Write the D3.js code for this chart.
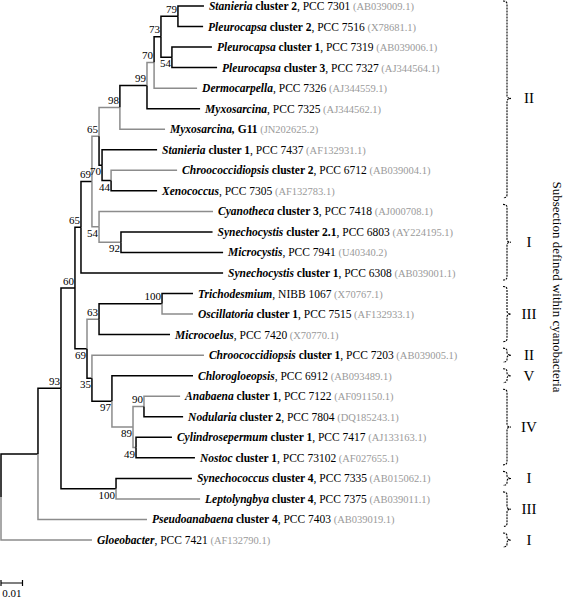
<!DOCTYPE html>
<html><head><meta charset="utf-8">
<script src="https://cdn.jsdelivr.net/npm/d3@7"></script>
<style>
body{margin:0;background:#fff}
svg{display:block}
svg text{font-family:"Liberation Serif","Times New Roman",Times,serif}
</style>
</head><body><svg id="c" width="565" height="598"></svg>
<script>
// ---------- data ----------
const taxa = ["Stan2","Pleur2","Pleur1","Pleur3","Derm","Myxo7325","MyxoG11","Stan1","Chroo2","Xeno","Cyano","Syn21","Microcystis","Syn1","Tricho","Oscill","Microcoelus","Chroo1","Chlorog","Anabaena","Nodularia","Cylindro","Nostoc","Synechococcus","Lepto","Pseudo","Gloeo"];
const genus = ["Stanieria","Pleurocapsa","Pleurocapsa","Pleurocapsa","Dermocarpella","Myxosarcina","Myxosarcina,","Stanieria","Chroococcidiopsis","Xenococcus","Cyanotheca","Synechocystis","Microcystis","Synechocystis","Trichodesmium","Oscillatoria","Microcoelus","Chroococcidiopsis","Chlorogloeopsis","Anabaena","Nodularia","Cylindrosepermum","Nostoc","Synechococcus","Leptolyngbya","Pseudoanabaena","Gloeobacter"];
const clusterTxt = [" cluster 2"," cluster 2"," cluster 1"," cluster 3","",""," G11"," cluster 1"," cluster 2",""," cluster 3"," cluster 2.1",""," cluster 1",""," cluster 1",""," cluster 1",""," cluster 1"," cluster 2"," cluster 1"," cluster 1"," cluster 4"," cluster 4"," cluster 4",""];
const strain = [", PCC 7301",", PCC 7516",", PCC 7319",", PCC 7327",", PCC 7326",", PCC 7325","",", PCC 7437",", PCC 6712",", PCC 7305",", PCC 7418",", PCC 6803",", PCC 7941",", PCC 6308",", NIBB 1067",", PCC 7515",", PCC 7420",", PCC 7203",", PCC 6912",", PCC 7122",", PCC 7804",", PCC 7417",", PCC 73102",", PCC 7335",", PCC 7375",", PCC 7403",", PCC 7421"];
const accession = ["AB039009.1","X78681.1","AB039006.1","AJ344564.1","AJ344559.1","AJ344562.1","JN202625.2","AF132931.1","AB039004.1","AF132783.1","AJ000708.1","AY224195.1","U40340.2","AB039001.1","X70767.1","AF132933.1","X70770.1","AB039005.1","AB093489.1","AF091150.1","DQ185243.1","AJ133163.1","AF027655.1","AB015062.1","AB039011.1","AB039019.1","AF132790.1"];
// distance from root (substitutions/site)
const tipDepth = [0.0944,0.0940,0.0981,0.1005,0.0912,0.0926,0.0763,0.0726,0.0819,0.0726,0.0986,0.0984,0.1033,0.1033,0.0893,0.0893,0.0786,0.0944,0.0893,0.0833,0.0847,0.0795,0.0902,0.0888,0.0926,0.0679,0.0423];
const tipGray = ["Derm","MyxoG11","Chroo2","Cyano","Oscill","Chroo1","Anabaena","Lepto","Pseudo","Gloeo"];

const nodeIds = ["R","A","B","C","D","F","G","I","K","L","M","N79","N54a","J","N44","H","N92","E","N63","N100a","N35","N97","N89","N90","N49","N100b"];
const nodeChildren = [["A","Gloeo"],["B","Pseudo"],["C","N100b"],["D","E"],["F","Syn1"],["G","H"],["I","J"],["K","MyxoG11"],["L","Myxo7325"],["M","Derm"],["N79","N54a"],["Stan2","Pleur2"],["Pleur1","Pleur3"],["Stan1","N44"],["Chroo2","Xeno"],["Cyano","N92"],["Syn21","Microcystis"],["N63","N35"],["N100a","Microcoelus"],["Tricho","Oscill"],["Chroo1","N97"],["Chlorog","N89"],["N90","N49"],["Anabaena","Nodularia"],["Cylindro","Nostoc"],["Synechococcus","Lepto"]];
const nodeDepth = [0,0.0172,0.0279,0.0344,0.0372,0.0423,0.0456,0.0553,0.0679,0.0712,0.0744,0.0823,0.0795,0.0470,0.0512,0.0456,0.0558,0.0400,0.0456,0.0749,0.0423,0.0516,0.0614,0.0665,0.0628,0.0535];
const nodeSupport = [null,null,93,60,65,69,65,98,99,70,73,79,54,70,44,54,92,69,63,100,35,97,89,90,49,100];
const supportBelow = ["N54a","J","N44","H","N92","E","N35","N97","N89","N49","N100b"];
const nodeGray = ["L","I","G","H","N92","N63","N89","N90","N49"];

const subsections = ["II","I","III","II","V","IV","I","III","I"];
const subFirst = [0,10,14,17,18,19,23,24,26];
const subLast  = [9,13,16,17,18,22,23,25,26];
const sideTitle = "Subsection defined within cyanobacteria";
const scaleBarValue = 0.01;

// ---------- drawing ----------
const FONT = "Liberation Serif, Times New Roman, Times, serif";
const BLACK = "#000", GRAY = "#8c8c8c";
const svg = d3.select("#c");

const x = d3.scaleLinear().domain([0, 0.01]).range([1, 22.5]);
const y = d3.scalePoint().domain(taxa).range([6, 540]);

const nodeIdx = new Map(nodeIds.map((d,i)=>[d,i]));
const taxIdx = new Map(taxa.map((d,i)=>[d,i]));
function build(id){
  if (nodeIdx.has(id)) {
    const i = nodeIdx.get(id);
    return {id, depth: nodeDepth[i], support: nodeSupport[i], children: nodeChildren[i].map(build)};
  }
  const i = taxIdx.get(id);
  return {id, depth: tipDepth[i], leaf: i};
}
const root = d3.hierarchy(build("R"));
root.eachAfter(n => {
  n.px = x(n.data.depth);
  n.py = n.children ? d3.mean(n.children, c => c.py) : y(n.data.id);
});

const isGray = id => tipGray.includes(id) || nodeGray.includes(id);

svg.append("g").selectAll("path").data(root.descendants().filter(d=>d.parent))
  .join("path")
  .attr("d", d => `M${d.parent.px},${d.parent.py}V${d.py}H${d.px}`)
  .attr("fill","none")
  .attr("stroke", d => isGray(d.data.id) ? GRAY : BLACK)
  .attr("stroke-width", 1.5);

// support values
svg.append("g").selectAll("text")
  .data(root.descendants().filter(d=>d.children && d.data.support!=null))
  .join("text")
  .attr("font-family", FONT)
  .attr("x", d => d.px - 1)
  .attr("y", d => supportBelow.includes(d.data.id) ? d.py + 10 : d.py - 3.5)
  .attr("text-anchor","end")
  .attr("font-size", 11)
  .text(d => d.data.support);

// tip labels
const lab = svg.append("g").selectAll("text").data(root.leaves()).join("text")
  .attr("font-family", FONT)
  .attr("x", d => d.px + 5)
  .attr("y", d => d.py + 4)
  .attr("font-size", 11.5);
lab.append("tspan").attr("font-weight","bold").attr("font-style","italic").text(d => genus[d.data.leaf]);
lab.append("tspan").attr("font-weight","bold").text(d => clusterTxt[d.data.leaf]);
lab.append("tspan").text(d => strain[d.data.leaf]);
lab.append("tspan").attr("fill","#9a9a9a").attr("font-size",10.5).text(d => "\u00a0(" + accession[d.data.leaf] + ")");

// brackets
const bx = 507, pad = 7;
const br = svg.append("g");
subsections.forEach((s,i) => {
  const t = y(taxa[subFirst[i]]) - pad, b = y(taxa[subLast[i]]) + pad, m = (t+b)/2;
  const top = Math.max(t, 1);
  br.append("path")
    .attr("d", `M${bx-4},${top}Q${bx},${top} ${bx},${top+3}V${m-3}Q${bx},${m} ${bx+4},${m}Q${bx},${m} ${bx},${m+3}V${b-3}Q${bx},${b} ${bx-4},${b}`)
    .attr("fill","none").attr("stroke","#000").attr("stroke-width",1.1)
    .attr("stroke-dasharray", "2,1");
  br.append("text").attr("font-family", FONT).attr("x", 529).attr("y", m + 5).attr("text-anchor","middle")
    .attr("font-size", 15).text(s);
});

svg.append("text").attr("font-family", FONT).attr("transform","translate(553,287) rotate(90)")
  .attr("text-anchor","middle").attr("font-size",13).text(sideTitle);

// scale bar
const sb = svg.append("g");
const sy = 583;
sb.append("path").attr("d", `M${x(0)},${sy}H${x(scaleBarValue)}M${x(0)},${sy-3}V${sy+3}M${x(scaleBarValue)},${sy-3}V${sy+3}`)
  .attr("stroke","#000").attr("stroke-width",1.2).attr("fill","none");
sb.append("text").attr("font-family", FONT).attr("x", x(scaleBarValue/2)).attr("y", 597).attr("text-anchor","middle")
  .attr("font-size",11).text(String(scaleBarValue));
</script></body></html>
